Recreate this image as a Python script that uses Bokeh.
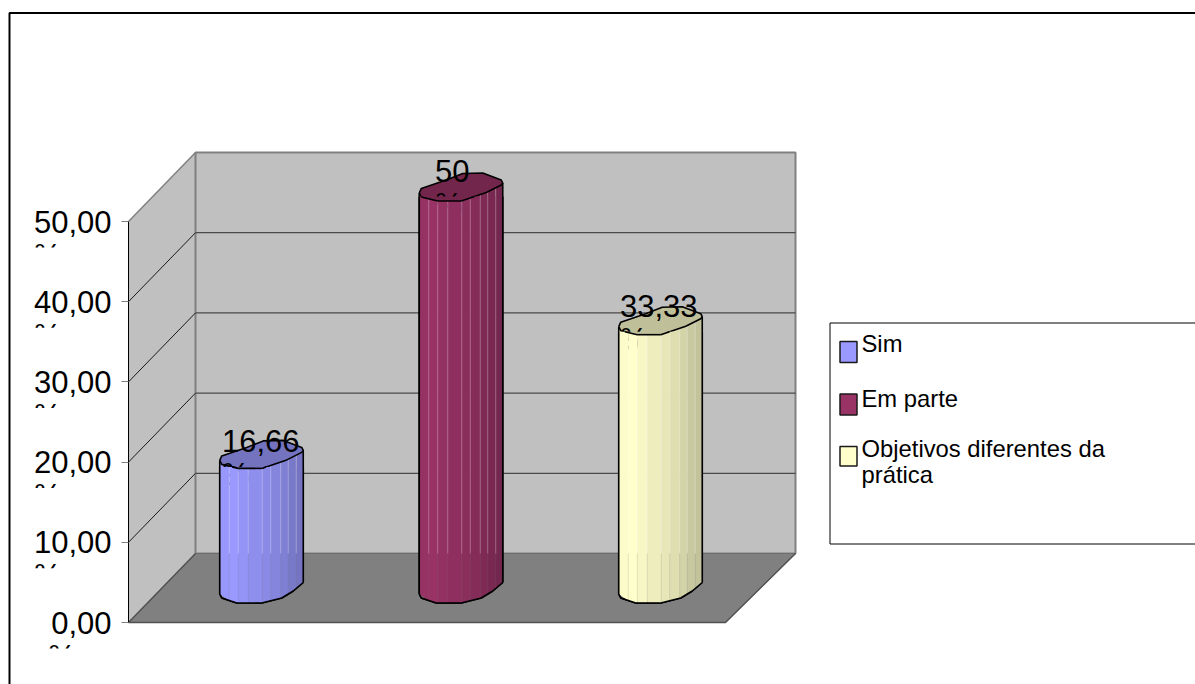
from bokeh.plotting import figure
from bokeh.models import Range1d, FixedTicker
from bokeh.core.properties import value
from bokeh.embed import file_html
from bokeh.resources import INLINE
import numpy as np

# Survey results
categories = ["Sim", "Em parte", "Objetivos diferentes da\nprática"]
values = [16.66, 50.0, 33.33]
value_labels = ["16,66", "50", "33,33"]
tick_values = [0, 10, 20, 30, 40, 50]
tick_labels = ["0,00", "10,00", "20,00", "30,00", "40,00", "50,00"]
base_colors = [(153, 153, 255), (153, 51, 102), (255, 255, 204)]

W, H = 1195, 684
FONT = "Liberation Sans"

# Layout of the drawing, in screen pixels
ORIGIN_X, ORIGIN_Y = 128.0, 622.0
PX_PER_CAT, PX_PER_UNIT = 199.0, 8.02
DEPTH_X, DEPTH_Y = 67.0, 69.0
LABEL_NUDGE = [(-1, 1.5), (-9, -1.5), (-2, 0)]
# Distance by which the renderer's alphabetic anchor sits above the actual baseline
BASELINE_FIX = 0.37


def fx(px):
    return (np.asarray(px, dtype=float) - ORIGIN_X) / PX_PER_CAT


def fy(py):
    return (ORIGIN_Y - np.asarray(py, dtype=float)) / PX_PER_UNIT


def proj(cat, val, depth=0.0):
    """Oblique projection of (category, value, depth) to plot coordinates."""
    x = cat + (cat * depth + depth * DEPTH_X) / PX_PER_CAT
    y = val + depth * DEPTH_Y / PX_PER_UNIT
    return x, y


p = figure(width=W, height=H, output_backend="svg", toolbar_location=None,
           x_range=Range1d(float(fx(0)), float(fx(W))),
           y_range=Range1d(float(fy(H)), float(fy(0))),
           min_border=0, min_border_left=0, min_border_right=0,
           min_border_top=0, min_border_bottom=0,
           outline_line_color=None, background_fill_color="white")
p.xaxis.visible = False
p.grid.visible = False

n = len(categories)
lo, hi = tick_values[0], tick_values[-1]


def corners(pts):
    xs, ys = zip(*[proj(*q) for q in pts])
    return list(xs), list(ys)


# Walls and floor of the 3D box
xs, ys = corners([(0, lo, 0), (0, hi, 0), (0, hi, 1), (0, lo, 1)])
p.patch(xs, ys, fill_color="#C0C0C0", line_color=None)
xs, ys = corners([(0, lo, 1), (0, hi, 1), (n, hi, 1), (n, lo, 1)])
p.patch(xs, ys, fill_color="#C0C0C0", line_color="#808080", line_width=2)
xs, ys = corners([(0, lo, 0), (0, lo, 1), (n, lo, 1), (n, lo, 0)])
p.patch(xs, ys, fill_color="#808080", line_color=None)
xs, ys = corners([(0, lo, 1), (n, lo, 1)])
p.line(xs, ys, line_color="#6e6e6e", line_width=1)
xs, ys = corners([(n, lo, 1), (n, lo, 0), (0, lo, 0), (0, lo, 1)])
p.line(xs, ys, line_color="#505050", line_width=1.5)
xs, ys = corners([(0, hi, 0), (0, hi, 1)])
p.line(xs, ys, line_color="#808080", line_width=1.5)

# Gridlines on the side and back walls
for t in tick_values[1:-1]:
    xs, ys = corners([(0, t, 0), (0, t, 1)])
    p.line(xs, ys, line_color="#1a1a1a", line_width=1)
    xs, ys = corners([(0, t, 1), (n, t, 1)])
    p.line(xs, ys, line_color="#4a4a4a", line_width=1.3)

# Cross-section of the low-polygon cylinders, pixel offsets from the axis
CAP = [(-42, 6), (-40, 1.5), (-15, -7), (1.5, -13.5), (21.5, -14), (40, -7),
       (41.5, -4), (40, -2), (25, 5.5), (0, 14), (-23.5, 14), (-40, 10), (-42, 6)]
UPPER_ARC = [(-42, 6), (-40, 10), (-23.5, 14), (0, 14), (25, 5.5), (40, -2), (41.5, -4)]
LOWER_ARC = [(-42, 6), (-40, 10), (-25, 15), (0, 15), (20, 10), (31.5, 3), (41.5, -5.5)]
STRIP_EDGES = [-42, -32.5, -23.5, -13.5, 0.5, 9, 19, 26.5, 34.5, 41.5]
STRIP_SHADE = [0.99, 1.0, 0.97, 0.93, 0.90, 0.87, 0.83, 0.79, 0.76]
CAP_SHADE = 0.75


def shade(rgb, k):
    return "#%02x%02x%02x" % tuple(int(round(c * k)) for c in rgb)


def arc_y(arc, x):
    a = np.array(arc, dtype=float)
    return float(np.interp(x, a[:, 0], a[:, 1]))


def clip_below(poly, cut):
    """Keep the part of a screen-space polygon that lies below the line y = cut."""
    out = []
    for (x0, y0), (x1, y1) in zip(poly, poly[1:] + poly[:1]):
        if y0 >= cut:
            out.append((x0, y0))
        if (y0 >= cut) != (y1 >= cut):
            t = (cut - y0) / (y1 - y0)
            out.append((x0 + t * (x1 - x0), cut))
    return out


def clip_path(path, cut):
    segs = []
    for (x0, y0), (x1, y1) in zip(path, path[1:]):
        if y0 < cut and y1 < cut:
            continue
        if y0 < cut:
            x0, y0 = x0 + (cut - y0) / (y1 - y0) * (x1 - x0), cut
        elif y1 < cut:
            x1, y1 = x0 + (cut - y0) / (y1 - y0) * (x1 - x0), cut
        segs.append([(x0, y0), (x1, y1)])
    return segs


def to_plot(poly):
    a = np.array(poly, dtype=float)
    return list(fx(a[:, 0])), list(fy(a[:, 1]))


def draw_cylinder(cat, val, rgb, cut=None):
    cx_d, top_d = proj(cat, val, 0.5)
    _, base_d = proj(cat, 0, 0.5)
    cx = ORIGIN_X + cx_d * PX_PER_CAT
    top = ORIGIN_Y - top_d * PX_PER_UNIT
    base = ORIGIN_Y - base_d * PX_PER_UNIT
    floor_back = ORIGIN_Y - proj(0, 0, 1)[1] * PX_PER_UNIT

    polys = []
    colors = []
    for a, b, k in zip(STRIP_EDGES, STRIP_EDGES[1:], STRIP_SHADE):
        strip = [(cx + a, top + arc_y(UPPER_ARC, a)), (cx + b, top + arc_y(UPPER_ARC, b)),
                 (cx + b, base + arc_y(LOWER_ARC, b)), (cx + a, base + arc_y(LOWER_ARC, a))]
        polys.append(strip)
        colors.append(shade(rgb, k))
    polys.append([(cx + dx, top + dy) for dx, dy in CAP[:-1]])
    colors.append(shade(rgb, CAP_SHADE))
    if cut is not None:
        kept = [(clip_below(q, cut), c) for q, c in zip(polys, colors)]
        kept = [(q, c) for q, c in kept if len(q) > 2]
        polys, colors = [q for q, _ in kept], [c for _, c in kept]
    xs_, ys_ = zip(*[to_plot(q) for q in polys])
    p.patches(list(xs_), list(ys_), fill_color=colors, line_color=None)

    # Pale seams between neighbouring strips
    for e in STRIP_EDGES[1:-1]:
        y0 = top + arc_y(UPPER_ARC, e)
        y1 = base + arc_y(LOWER_ARC, e)
        if cut is not None:
            y0 = max(y0, cut)
        if y0 < floor_back:
            p.line(*to_plot([(cx + e, y0), (cx + e, floor_back)]),
                   line_color="#ffffff", line_alpha=0.26, line_width=1)
        p.line(*to_plot([(cx + e, max(y0, floor_back)), (cx + e, y1)]),
               line_color="#808080", line_alpha=0.14, line_width=1)

    # Outline of the cap and the body
    left, right = UPPER_ARC[0], UPPER_ARC[-1]
    paths = [[(cx + dx, top + dy) for dx, dy in CAP],
             [(cx + left[0], top + left[1]), (cx + left[0], base + LOWER_ARC[0][1])],
             [(cx + right[0], top + right[1]), (cx + right[0], base + LOWER_ARC[-1][1])],
             [(cx + dx, base + dy) for dx, dy in LOWER_ARC]]
    if cut is not None:
        paths = [s for path in paths for s in clip_path(path, cut)]
    for path in paths:
        p.line(*to_plot(path), line_color="#000000", line_width=1.6)
    return cx, top


# Cylinders
tops = [draw_cylinder(i + 0.5, v, c) for i, (v, c) in enumerate(zip(values, base_colors))]

# Value labels; the percent sign wraps onto a second line that is cut off
LABEL_PX = 31
LABEL_SIZE = f"{LABEL_PX}px"
PCT_DROP = 45 - BASELINE_FIX * LABEL_PX
lab_x, lab_y, pct_x, pct_y, cuts = [], [], [], [], []
for (cx, top), t, (dx, dy) in zip(tops, value_labels, LABEL_NUDGE):
    cx += dx
    cy = top - 15 + dy
    half = 0.5 * (0.556 * sum(ch.isdigit() for ch in t) + 0.278 * t.count(",")) * LABEL_PX
    lab_x.append(float(fx(cx)))
    lab_y.append(float(fy(cy)))
    pct_x.append(float(fx(cx - half)))
    pct_y.append(float(fy(cy + PCT_DROP)))
    cuts.append(cy + 26)
p.text(pct_x, pct_y, text=["%"] * n, text_font=value(FONT), text_font_size=LABEL_SIZE,
       text_align="left", text_baseline="alphabetic", text_color="#000000")
for i, (v, c) in enumerate(zip(values, base_colors)):
    draw_cylinder(i + 0.5, v, c, cut=cuts[i])
p.text(lab_x, lab_y, text=value_labels, text_font=value(FONT), text_font_size=LABEL_SIZE,
       text_align="center", text_baseline="middle", text_color="#000000")

# Value axis
ax = p.yaxis[0]
ax.fixed_location = 0
ax.bounds = (lo, hi)
ax.ticker = FixedTicker(ticks=tick_values)
ax.major_label_overrides = {t: s for t, s in zip(tick_values, tick_labels)}
ax.major_label_text_font = FONT
ax.major_label_text_font_size = LABEL_SIZE
ax.major_label_text_color = "#000000"
ax.major_label_standoff = 10
ax.major_tick_in = 0
ax.major_tick_out = 7
ax.major_tick_line_color = "#808080"
ax.major_tick_line_width = 1
ax.minor_tick_line_color = None
ax.axis_line_color = "#000000"
ax.axis_line_width = 1

# Percent signs of the tick labels, wrapped and cut off in the same way
tick_left = [111 - (0.556 * sum(ch.isdigit() for ch in s) + 0.278) * LABEL_PX - (3 if len(s) < 5 else 0)
             for s in tick_labels]
p.text(list(fx(tick_left)), [t - PCT_DROP / PX_PER_UNIT for t in tick_values], text=["%"] * len(tick_values),
       text_font=value(FONT), text_font_size=LABEL_SIZE, text_align="left",
       text_baseline="alphabetic", text_color="#000000")
p.quad(left=float(fx(20)), right=float(fx(118)),
       top=[t - 26 / PX_PER_UNIT for t in tick_values],
       bottom=[t - 50 / PX_PER_UNIT for t in tick_values],
       fill_color="white", line_color=None)

# Legend box, running off the right edge
box_x, box_y = zip(*[(829.5, 322.5), (1200, 322.5), (1200, 543.5), (829.5, 543.5), (829.5, 322.5)])
p.line(list(fx(box_x)), list(fy(box_y)), line_color="#000000", line_width=1)
p.quad(left=float(fx(839.5)), right=float(fx(856.5)),
       top=list(fy([341, 393.5, 446])), bottom=list(fy([362, 414.5, 465.5])),
       fill_color=[shade(c, 1) for c in base_colors], line_color="#1a1a1a", line_width=1.5)
LEGEND_PX = 23.8
legend_rows = []
for cat_name, row_base in zip(categories, [352, 406.5, 456.5]):
    for j, row in enumerate(cat_name.split("\n")):
        legend_rows.append((row, row_base + j * 26.5 - BASELINE_FIX * LEGEND_PX))
p.text(float(fx(861)) * np.ones(len(legend_rows)), list(fy([r[1] for r in legend_rows])),
       text=[r[0] for r in legend_rows], text_font=value(FONT), text_font_size=f"{LEGEND_PX}px",
       text_align="left", text_baseline="alphabetic", text_color="#000000")

# Chart area border, open towards the right and the bottom
bx, by = zip(*[(9, 700), (9, 12.5), (1205, 12.5)])
p.line(list(fx(bx)), list(fy(by)), line_color="#000000", line_width=2)

open("out.html", "w").write(file_html(p, INLINE))
